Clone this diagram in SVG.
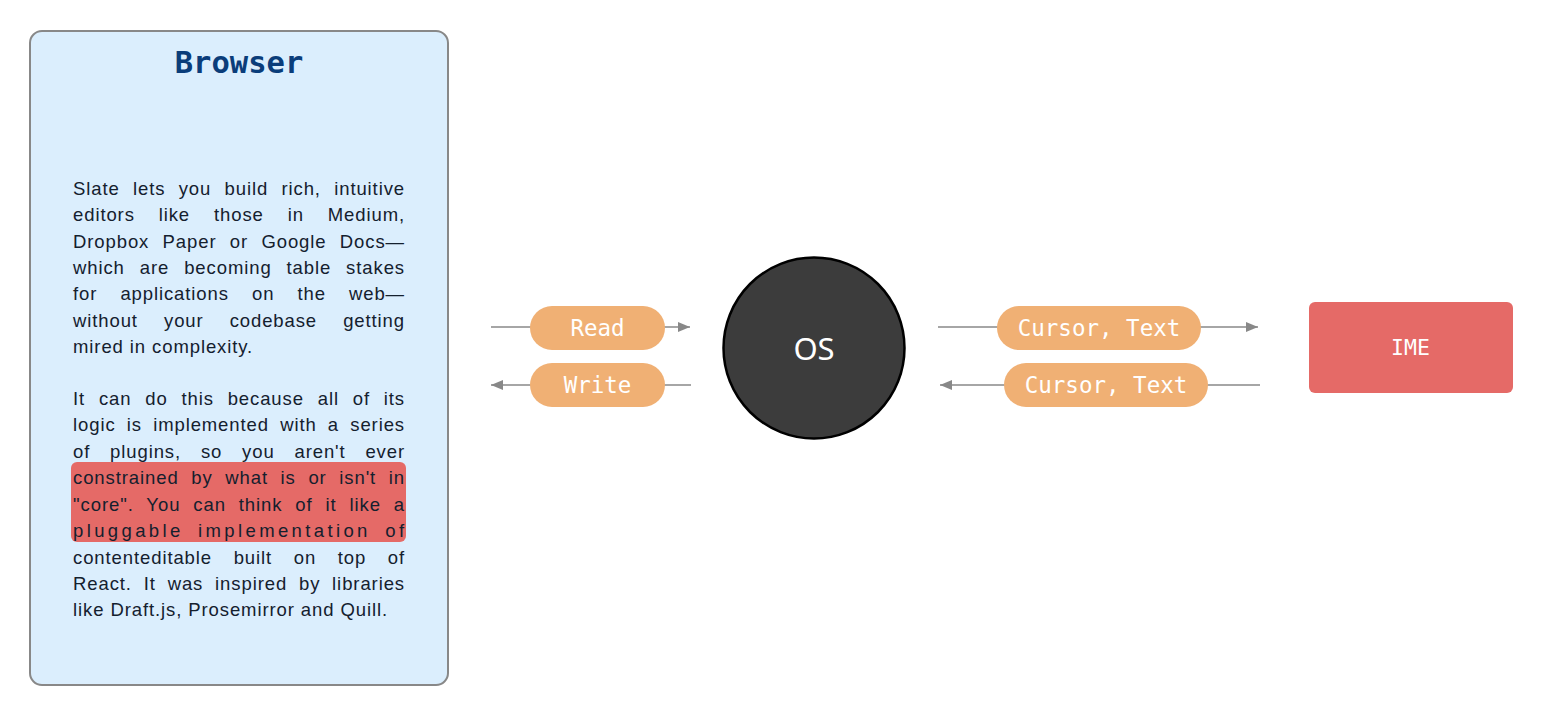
<svg xmlns="http://www.w3.org/2000/svg" width="1543" height="715" viewBox="0 0 1543 715">
<defs>
<style>
.body{font-family:"Liberation Sans",Arial,sans-serif;font-size:18.5px;letter-spacing:0.9px;fill:#14202e}
.pill{fill:#f0b074}
.pt{font-family:"DejaVu Sans Mono","Liberation Mono",monospace;font-size:22.5px;fill:#ffffff;text-anchor:middle;dominant-baseline:central}
.edge{stroke:#888888;stroke-width:1.6;fill:none}
</style>
<marker id="ah" viewBox="0 0 12 10" refX="12" refY="5" markerWidth="12" markerHeight="10" markerUnits="userSpaceOnUse" orient="auto"><path d="M0,0 L12,5 L0,10 Z" fill="#888888"/></marker>
</defs>
<rect width="1543" height="715" fill="#ffffff"/>
<g id="browser">
<rect x="30" y="31" width="418" height="654" rx="12" fill="#dbeefd" stroke="#888888" stroke-width="2"/>
<text x="239" y="73" text-anchor="middle" font-family="DejaVu Sans Mono,Liberation Mono,monospace" font-weight="bold" font-size="30.5" fill="#0a3d7a">Browser</text>
<rect x="71" y="462" width="335" height="80" rx="6" fill="#e56a67"/>
<g class="body">
<text x="73" y="195" word-spacing="7.3" textLength="332" lengthAdjust="spacing">Slate lets you build rich, intuitive</text>
<text x="73" y="221" word-spacing="17.9" textLength="332" lengthAdjust="spacing">editors like those in Medium,</text>
<text x="73" y="248" word-spacing="7.3" textLength="332" lengthAdjust="spacing">Dropbox Paper or Google Docs—</text>
<text x="73" y="274" word-spacing="8.9" textLength="332" lengthAdjust="spacing">which are becoming table stakes</text>
<text x="73" y="300" word-spacing="17.1" textLength="332" lengthAdjust="spacing">for applications on the web—</text>
<text x="73" y="327" word-spacing="20.1" textLength="332" lengthAdjust="spacing">without your codebase getting</text>
<text x="73" y="353">mired in complexity.</text>
<text x="73" y="405" word-spacing="7.8" textLength="332" lengthAdjust="spacing">It can do this because all of its</text>
<text x="73" y="431" word-spacing="5.2" textLength="332" lengthAdjust="spacing">logic is implemented with a series</text>
<text x="73" y="458" word-spacing="13.8" textLength="332" lengthAdjust="spacing">of plugins, so you aren't ever</text>
<text x="73" y="484" word-spacing="6.6" textLength="332" lengthAdjust="spacing">constrained by what is or isn't in</text>
<text x="73" y="511" word-spacing="6.7" textLength="332" lengthAdjust="spacing">"core". You can think of it like a</text>
<text x="73" y="537" word-spacing="6" textLength="332" lengthAdjust="spacing">pluggable implementation of</text>
<text x="73" y="564" word-spacing="15.6" textLength="332" lengthAdjust="spacing">contenteditable built on top of</text>
<text x="73" y="590" word-spacing="5.8" textLength="332" lengthAdjust="spacing">React. It was inspired by libraries</text>
<text x="73" y="616">like Draft.js, Prosemirror and Quill.</text>
</g>
</g>
<g id="connectors">
<line class="edge" x1="491" y1="327" x2="690" y2="327" marker-end="url(#ah)"/>
<line class="edge" x1="691" y1="385" x2="491" y2="385" marker-end="url(#ah)"/>
<line class="edge" x1="938" y1="327" x2="1258" y2="327" marker-end="url(#ah)"/>
<line class="edge" x1="1260" y1="385" x2="940" y2="385" marker-end="url(#ah)"/>
<g id="label-read"><rect class="pill" x="530" y="306" width="135" height="44" rx="22"/><text class="pt" x="597.5" y="328">Read</text></g>
<g id="label-write"><rect class="pill" x="530" y="363" width="135" height="44" rx="22"/><text class="pt" x="597.5" y="385">Write</text></g>
<g id="label-ct1"><rect class="pill" x="997" y="306" width="204" height="44" rx="22"/><text class="pt" x="1099" y="328">Cursor, Text</text></g>
<g id="label-ct2"><rect class="pill" x="1004" y="363" width="204" height="44" rx="22"/><text class="pt" x="1106" y="385">Cursor, Text</text></g>
</g>
<g id="os">
<circle cx="814" cy="348" r="90.5" fill="#3c3c3c" stroke="#000000" stroke-width="2.5"/>
<text x="814" y="348" text-anchor="middle" dominant-baseline="central" font-family="Noto Sans,sans-serif" font-size="31" fill="#ffffff">OS</text>
</g>
<g id="ime">
<rect x="1309" y="302" width="204" height="91" rx="6" fill="#e56a67"/>
<text x="1410.5" y="347" text-anchor="middle" dominant-baseline="central" font-family="DejaVu Sans Mono,Liberation Mono,monospace" font-size="21.5" fill="#ffffff">IME</text>
</g>
</svg>
